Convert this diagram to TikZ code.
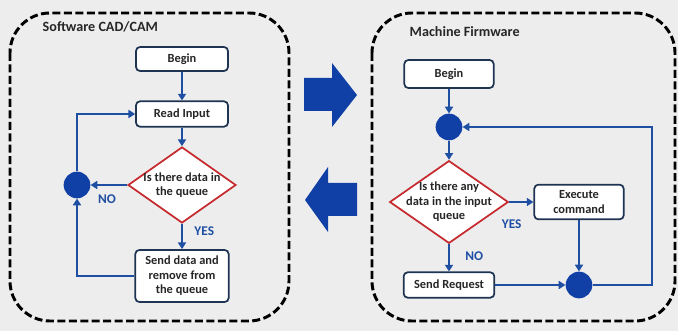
\documentclass[tikz,border=0pt]{standalone}
\usepackage{fontspec}
\setmainfont{Carlito}
\usetikzlibrary{shapes.geometric,arrows.meta}
\definecolor{flowblue}{HTML}{1F4FA3}
\definecolor{dotblue}{HTML}{103FA6}
\definecolor{boxnavy}{HTML}{1E3452}
\definecolor{decred}{HTML}{C62A2F}
\definecolor{paper}{HTML}{EDEDED}

\begin{document}
\begin{tikzpicture}[x=0.75pt,y=-0.75pt,
    frame/.style={draw=black, line width=2.2pt, dash pattern=on 6pt off 2.6pt, rounded corners=30pt},
    stepbox/.style={draw=boxnavy, line width=1.3pt, fill=white, rounded corners=3pt, align=center,
        text=black!85, font=\bfseries\fontsize{9.3}{10.8}\selectfont, inner sep=1pt},
    decision/.style={diamond, draw=decred, line width=1.3pt, fill=white, align=center, inner sep=-6pt,
        text=black!85, font=\bfseries\fontsize{9.3}{10.8}\selectfont},
    junction/.style={circle, fill=dotblue, minimum size=20pt, inner sep=0pt},
    flow/.style={draw=flowblue, line width=2pt, -{Triangle[length=5pt,width=6pt]}},
    answer/.style={text=flowblue, font=\bfseries\fontsize{10}{12}\selectfont},
    title/.style={anchor=west, text=black!85, font=\bfseries\fontsize{10.6}{12}\selectfont}]

    % Background
    \fill[paper] (0,0) rectangle (678,331);

    % Software CAD/CAM
    \draw[frame] (10,13) rectangle (289,321);
    \node[title] (title1) at (38,27) {Software CAD/CAM};
    \node[stepbox, minimum width=69pt, minimum height=18pt] (begin1) at (182,59) {Begin};
    \node[stepbox, minimum width=69pt, minimum height=19pt] (read1) at (182,114) {Read Input};
    \node[decision, minimum width=81pt, minimum height=57pt] (dec1) at (182,185) {Is there data in\\the queue};
    \node[stepbox, minimum width=70pt, minimum height=39pt] (send1) at (182,276) {Send data and\\remove from\\the queue};
    \node[junction] (join1) at (77,185) {};

    \draw[flow] (begin1) -- (read1);
    \draw[flow] (read1) -- (dec1);
    \draw[flow] (dec1) -- node[answer, below=3pt, pos=0.55] {NO} (join1);
    \draw[flow] (dec1) -- node[answer, right=5pt, pos=0.3] {YES} (send1);
    \draw[flow] (send1) -| (join1);
    \draw[flow] (join1) |- (read1);

    % Arrows between the two
    \fill[dotblue] (304,78) -- (332,78) -- (332,63) -- (357,95) -- (332,127) -- (332,111) -- (304,111) -- cycle;
    \fill[dotblue] (357,183) -- (328,183) -- (328,167) -- (305,200) -- (328,232) -- (328,216) -- (357,216) -- cycle;

    % Machine Firmware
    \draw[frame] (372,13) rectangle (675,321);
    \node[title] (title2) at (405,32) {Machine Firmware};
    \node[stepbox, minimum width=67pt, minimum height=21pt] (begin2) at (449,74) {Begin};
    \node[junction] (join2) at (449,127) {};
    \node[decision, shape aspect=1.43, minimum width=89pt, minimum height=62pt] (dec2) at (449,202) {Is there any\\data in the input\\queue};
    \node[stepbox, minimum width=67pt, minimum height=26pt] (exec) at (579,202) {Execute\\command};
    \node[stepbox, minimum width=68pt, minimum height=19pt] (send2) at (449,285) {Send Request};
    \node[junction] (join3) at (579,285) {};
    \coordinate (turn) at (652,285);

    \draw[flow] (begin2) -- (join2);
    \draw[flow] (join2) -- (dec2);
    \draw[flow] (dec2) -- node[answer, below=9pt, pos=0.1] {YES} (exec);
    \draw[flow] (dec2) -- node[answer, right=8pt, pos=0.45] {NO} (send2);
    \draw[flow] (exec) -- (join3);
    \draw[flow] (send2) -- (join3);
    \draw[flow] (join3) -- (turn) |- (join2);
\end{tikzpicture}
\end{document}
